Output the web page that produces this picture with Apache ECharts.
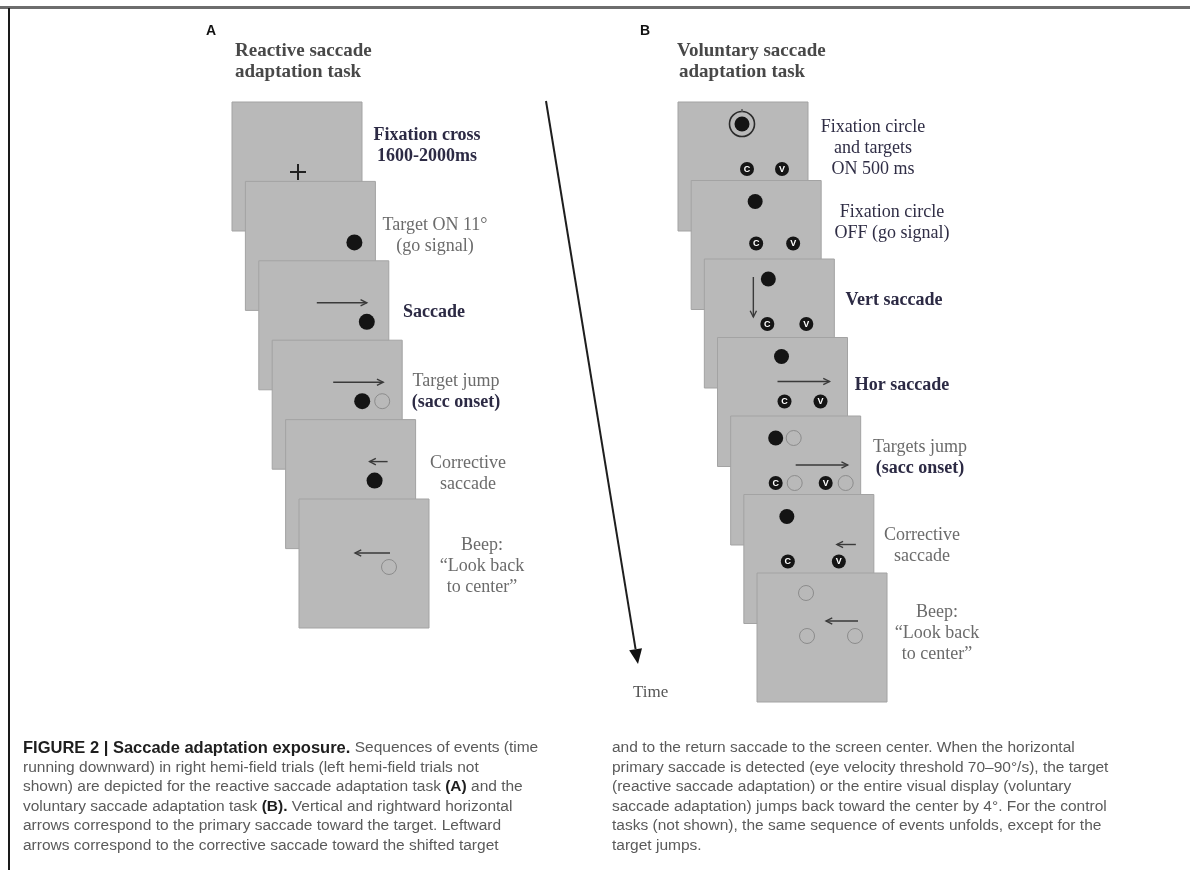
<!DOCTYPE html>
<html><head><meta charset="utf-8">
<script src="https://cdn.jsdelivr.net/npm/echarts@6/dist/echarts.min.js"></script>
<style>html,body{margin:0;padding:0;background:#fff}#c{width:1190px;height:870px}</style>
</head><body><div id="c"></div>
<script>
// ---------- DATA ----------
// Panel titles
const panelLetters = ['A', 'B'];
const titleA = ['Reactive saccade', 'adaptation task'];
const titleB = ['Voluntary saccade', 'adaptation task'];

// Event labels per screen (text, 1 = bold/dark, 0 = regular/grey, 2 = regular/dark)
const labelsA = [
  [['Fixation cross', 1], ['1600-2000ms', 1]],
  [['Target ON 11°', 0], ['(go signal)', 0]],
  [['Saccade', 1]],
  [['Target jump', 0], ['(sacc onset)', 1]],
  [['Corrective', 0], ['saccade', 0]],
  [['Beep:', 0], ['“Look back', 0], ['to center”', 0]]
];
const labelsB = [
  [['Fixation circle', 2], ['and targets', 2], ['ON 500 ms', 2]],
  [['Fixation circle', 2], ['OFF (go signal)', 2]],
  [['Vert saccade', 1]],
  [['Hor saccade', 1]],
  [['Targets jump', 0], ['(sacc onset)', 1]],
  [['Corrective', 0], ['saccade', 0]],
  [['Beep:', 0], ['“Look back', 0], ['to center”', 0]]
];
// label anchor (centre x, first-line y) in diagram units
const labelAnchorA = [[427, 135], [435, 225], [434, 312], [456, 381], [468, 463], [482, 545]];
const labelAnchorB = [[873, 127], [892, 212], [894, 300], [902, 385], [920, 447], [922, 535], [937, 612]];

// Screen contents: [screenIndex, x, y] offsets within a screen (diagram units)
const crossA = [[0, 66, 70]];
const dotsA = [[1, 109, 61], [2, 108, 61], [3, 90, 61], [4, 89, 61]];
const openA = [[3, 110, 61], [5, 90, 68]];
const arrowsA = [[2, 58, 42, 108, 42], [3, 61, 42, 111, 42], [4, 102, 42, 84, 42], [5, 91, 54, 56, 54]];

const ringB = [[0, 64, 22]];
const dotsB = [[0, 64, 22], [1, 64, 21], [2, 64, 20], [3, 64, 19], [4, 45, 22], [5, 43, 22]];
const openB = [[4, 63, 22], [4, 64, 67], [4, 115, 67], [6, 49, 20], [6, 50, 63], [6, 98, 63]];
const lettersB = [
  [0, 'C', 69, 67], [0, 'V', 104, 67], [1, 'C', 65, 63], [1, 'V', 102, 63],
  [2, 'C', 63, 65], [2, 'V', 102, 65], [3, 'C', 67, 64], [3, 'V', 103, 64],
  [4, 'C', 45, 67], [4, 'V', 95, 67], [5, 'C', 44, 67], [5, 'V', 95, 67]
];
const arrowsB = [[2, 49, 18, 49, 58], [3, 60, 44, 112, 44], [4, 65, 49, 117, 49], [5, 112, 50, 93, 50], [6, 101, 48, 69, 48]];

// Time arrow (start, end) and label
const timeArrow = [[546, 101], [638, 664]];
const timeLabel = ['Time', 633, 693];

// Caption lines
const captionLeft = [
  '{h|FIGURE 2 | Saccade adaptation exposure.} Sequences of events (time',
  'running downward) in right hemi-field trials (left hemi-field trials not',
  'shown) are depicted for the reactive saccade adaptation task {b|(A)} and the',
  'voluntary saccade adaptation task {b|(B).} Vertical and rightward horizontal',
  'arrows correspond to the primary saccade toward the target. Leftward',
  'arrows correspond to the corrective saccade toward the shifted target'
];
const captionRight = [
  'and to the return saccade to the screen center. When the horizontal',
  'primary saccade is detected (eye velocity threshold 70–90°/s), the target',
  '(reactive saccade adaptation) or the entire visual display (voluntary',
  'saccade adaptation) jumps back toward the center by 4°. For the control',
  'tasks (not shown), the same sequence of events unfolds, except for the',
  'target jumps.'
];

// ---------- LAYOUT / STYLE ----------
const W = 1190, H = 870;
const SCREEN = [130, 129];
const panelA = { origin: [232, 102], step: [13.4, 79.4], labels: labelsA, anchors: labelAnchorA,
  cross: crossA, dots: dotsA, open: openA, arrows: arrowsA, ring: [], letters: [], dotR: 8 };
const panelB = { origin: [678, 102], step: [13.17, 78.5], labels: labelsB, anchors: labelAnchorB,
  cross: [], dots: dotsB, open: openB, arrows: arrowsB, ring: ringB, letters: lettersB, dotR: 7.5 };

const SERIF = '"Liberation Serif", "DejaVu Serif", serif';
const SANS_F = '"Liberation Sans", Arial, sans-serif';
const labelColors = ['#6b6b6b', '#2c2a44', '#2f2d45'];
const CAP_SIZE = 15.5;

function arrowShapes(p1, p2, color, lw, head) {
  const ang = Math.atan2(p2[1] - p1[1], p2[0] - p1[0]);
  const a1 = ang + Math.PI * 0.85, a2 = ang - Math.PI * 0.85;
  return [
    { type: 'line', shape: { x1: p1[0], y1: p1[1], x2: p2[0], y2: p2[1] }, style: { stroke: color, lineWidth: lw } },
    { type: 'polyline', shape: { points: [
      [p2[0] + head * Math.cos(a1), p2[1] + head * Math.sin(a1)], p2,
      [p2[0] + head * Math.cos(a2), p2[1] + head * Math.sin(a2)]] },
      style: { stroke: color, lineWidth: lw, fill: null } }
  ];
}

function panelSeries(cfg) {
  return {
    type: 'custom', coordinateSystem: 'cartesian2d', silent: true,
    data: cfg.labels.map((_, i) => [i]),
    renderItem: function (params, api) {
      const i = api.value(0);
      const ox = cfg.origin[0] + i * cfg.step[0], oy = cfg.origin[1] + i * cfg.step[1];
      const P = (dx, dy) => api.coord([ox + dx, oy + dy]);
      const tl = P(0, 0), br = P(SCREEN[0], SCREEN[1]);
      const ch = [{ type: 'rect', shape: { x: tl[0], y: tl[1], width: br[0] - tl[0], height: br[1] - tl[1] },
        style: { fill: '#b9b9b9', stroke: '#a3a3a3', lineWidth: 1 } }];
      cfg.cross.filter(d => d[0] === i).forEach(d => {
        const c = P(d[1], d[2]);
        ch.push({ type: 'line', shape: { x1: c[0] - 8, y1: c[1], x2: c[0] + 8, y2: c[1] }, style: { stroke: '#222', lineWidth: 2 } });
        ch.push({ type: 'line', shape: { x1: c[0], y1: c[1] - 8, x2: c[0], y2: c[1] + 8 }, style: { stroke: '#222', lineWidth: 2 } });
      });
      cfg.ring.filter(d => d[0] === i).forEach(d => {
        const c = P(d[1], d[2]);
        ch.push({ type: 'circle', shape: { cx: c[0], cy: c[1], r: 12.5 }, style: { fill: null, stroke: '#2a2a2a', lineWidth: 1.6 } });
        ch.push({ type: 'line', shape: { x1: c[0], y1: c[1] - 15, x2: c[0], y2: c[1] - 12 }, style: { stroke: '#555', lineWidth: 1.5 } });
      });
      cfg.dots.filter(d => d[0] === i).forEach(d => {
        const c = P(d[1], d[2]);
        ch.push({ type: 'circle', shape: { cx: c[0], cy: c[1], r: cfg.dotR }, style: { fill: '#141414' } });
      });
      cfg.open.filter(d => d[0] === i).forEach(d => {
        const c = P(d[1], d[2]);
        ch.push({ type: 'circle', shape: { cx: c[0], cy: c[1], r: 7.5 }, style: { fill: null, stroke: '#8c8c8c', lineWidth: 1 } });
      });
      cfg.letters.filter(d => d[0] === i).forEach(d => {
        const c = P(d[2], d[3]);
        ch.push({ type: 'circle', shape: { cx: c[0], cy: c[1], r: 7 }, style: { fill: '#151515' } });
        ch.push({ type: 'text', x: c[0], y: c[1] + 0.5, style: { text: d[1], fill: '#fff', font: 'bold 9px ' + SANS_F, align: 'center', verticalAlign: 'middle' } });
      });
      cfg.arrows.filter(d => d[0] === i).forEach(d => {
        arrowShapes(P(d[1], d[2]), P(d[3], d[4]), '#3a3a3a', 1.4, 7).forEach(s => ch.push(s));
      });
      const a = cfg.anchors[i];
      cfg.labels[i].forEach((ln, k) => {
        const c = api.coord([a[0], a[1] + k * 21]);
        ch.push({ type: 'text', x: c[0], y: c[1], style: {
          text: ln[0], fill: labelColors[ln[1]],
          font: (ln[1] === 1 ? 'bold ' : '') + '18px ' + SERIF, align: 'center', verticalAlign: 'middle' } });
      });
      return { type: 'group', children: ch };
    }
  };
}

const timeSeries = {
  type: 'custom', coordinateSystem: 'cartesian2d', silent: true,
  data: [[0]],
  renderItem: function (params, api) {
    const p1 = api.coord(timeArrow[0]), p2 = api.coord(timeArrow[1]);
    const ang = Math.atan2(p2[1] - p1[1], p2[0] - p1[0]);
    const L = 15, Wd = 6.5;
    const base = [p2[0] - L * Math.cos(ang), p2[1] - L * Math.sin(ang)];
    const nx = -Math.sin(ang), ny = Math.cos(ang);
    const tl = api.coord([timeLabel[1], timeLabel[2]]);
    return { type: 'group', children: [
      { type: 'line', shape: { x1: p1[0], y1: p1[1], x2: base[0], y2: base[1] }, style: { stroke: '#1e1e1e', lineWidth: 2 } },
      { type: 'polygon', shape: { points: [p2, [base[0] + nx * Wd, base[1] + ny * Wd], [base[0] + nx * -Wd, base[1] + ny * -Wd]] }, style: { fill: '#111' } },
      { type: 'text', x: tl[0], y: tl[1], style: { text: timeLabel[0], fill: '#555', font: '17px ' + SERIF, align: 'left', verticalAlign: 'middle' } }
    ] };
  }
};

const graphics = [
  { type: 'rect', shape: { x: 0, y: 6, width: W, height: 3 }, style: { fill: '#6d6d6d' } },
  { type: 'rect', shape: { x: 8, y: 8, width: 2, height: H - 8 }, style: { fill: '#1a1a1a' } },
  { type: 'text', x: 206, y: 31, style: { text: panelLetters[0], font: 'bold 14px ' + SANS_F, fill: '#111', verticalAlign: 'middle' } },
  { type: 'text', x: 640, y: 31, style: { text: panelLetters[1], font: 'bold 14px ' + SANS_F, fill: '#111', verticalAlign: 'middle' } }
];
titleA.forEach((t, k) => graphics.push({ type: 'text', x: 235, y: 51 + k * 21, style: { text: t, font: 'bold 19px ' + SERIF, fill: '#484848', verticalAlign: 'middle' } }));
titleB.forEach((t, k) => graphics.push({ type: 'text', x: 677 + k * 2, y: 51 + k * 21, style: { text: t, font: 'bold 19px ' + SERIF, fill: '#484848', verticalAlign: 'middle' } }));
const rich = {
  h: { fontWeight: 'bold', fontSize: 16.5, fontFamily: SANS_F, fill: '#1e1e1e' },
  b: { fontWeight: 'bold', fontSize: CAP_SIZE, fontFamily: SANS_F, fill: '#1e1e1e' }
};
function capStyle(t) {
  return { text: t, rich: rich, fontSize: CAP_SIZE, fontFamily: SANS_F, fill: '#5a5a5a', verticalAlign: 'middle' };
}
captionLeft.forEach((t, k) => graphics.push({ type: 'text', x: 23, y: 748 + k * 19.5, style: capStyle(t) }));
captionRight.forEach((t, k) => graphics.push({ type: 'text', x: 612, y: 748 + k * 19.5, style: capStyle(t) }));

const chart = echarts.init(document.getElementById('c'));
chart.setOption({
  animation: false,
  backgroundColor: '#fff',
  grid: { left: 0, right: 0, top: 0, bottom: 0 },
  xAxis: { type: 'value', min: 0, max: W, show: false },
  yAxis: { type: 'value', min: 0, max: H, inverse: true, show: false },
  graphic: graphics,
  series: [panelSeries(panelA), panelSeries(panelB), timeSeries]
});
</script></body></html>
